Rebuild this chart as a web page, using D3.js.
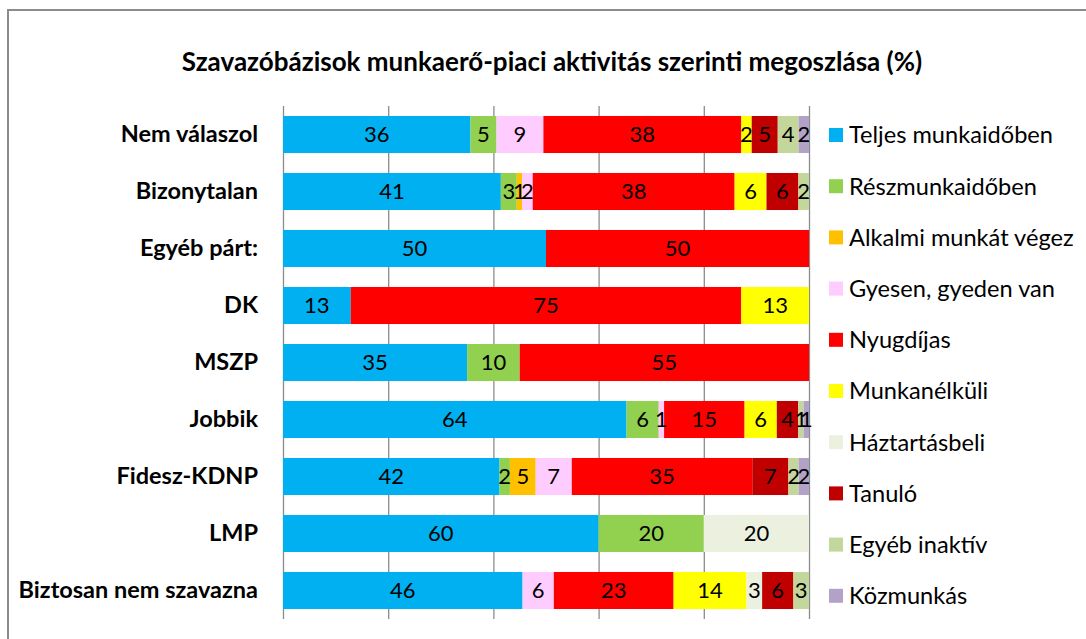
<!DOCTYPE html>
<html><head><meta charset="utf-8">
<script src="https://cdn.jsdelivr.net/npm/d3@7"></script>
<style>
html,body{margin:0;padding:0;background:#fff;}
svg{display:block;}
text{font-family:Lato, "Open Sans", sans-serif;}
</style></head>
<body><svg id="chart" width="1086" height="639"></svg>
<script>
const title = "Szavazóbázisok munkaerő-piaci aktivitás szerinti megoszlása (%)";
const categories = ["Nem válaszol","Bizonytalan","Egyéb párt:","DK","MSZP","Jobbik","Fidesz-KDNP","LMP","Biztosan nem szavazna"];
const seriesNames = ["Teljes munkaidőben","Részmunkaidőben","Alkalmi munkát végez","Gyesen, gyeden van","Nyugdíjas","Munkanélküli","Háztartásbeli","Tanuló","Egyéb inaktív","Közmunkás"];
const seriesColors = ["#00b0f0","#92d050","#ffc000","#ffccff","#ff0000","#ffff00","#ebf1de","#c00000","#c3d69b","#b3a2c7"];
const teljes     = [36,41,50,13,35,64,42,60,46];
const resz       = [ 5, 3, 0, 0,10, 6, 2,20, 0];
const alkalmi    = [ 0, 1, 0, 0, 0, 0, 5, 0, 0];
const gyes       = [ 9, 2, 0, 0, 0, 1, 7, 0, 6];
const nyugdijas  = [38,38,50,75,55,15,35, 0,23];
const munkanelk  = [ 2, 6, 0,13, 0, 6, 0, 0,14];
const haztartas  = [ 0, 0, 0, 0, 0, 0, 0,20, 3];
const tanulo     = [ 5, 6, 0, 0, 0, 4, 7, 0, 6];
const egyeb      = [ 4, 2, 0, 0, 0, 1, 2, 0, 3];
const kozmunkas  = [ 2, 0, 0, 0, 0, 1, 2, 0, 0];
const seriesValues = [teljes,resz,alkalmi,gyes,nyugdijas,munkanelk,haztartas,tanulo,egyeb,kozmunkas];
const gridTicks = [0,0.2,0.4,0.6,0.8,1];

const table = categories.map((c,i)=>{
  const row = {cat:c};
  seriesNames.forEach((s,j)=>row[s]=seriesValues[j][i]);
  return row;
});

const svg = d3.select("#chart");
// outer frame
svg.append("rect").attr("x",8).attr("y",10).attr("width",1200).attr("height",800)
  .attr("fill","none").attr("stroke","#8c8c8c").attr("stroke-width",2);

svg.append("text").attr("x",552).attr("y",71).attr("text-anchor","middle")
  .attr("font-size",26).attr("font-weight","bold").attr("fill","#000").text(title);

const x = d3.scaleLinear().domain([0,1]).range([283,809]);
const y = d3.scaleBand().domain(categories).range([106,619]).paddingInner(0.35).paddingOuter(0.175);

const stack = d3.stack().keys(seriesNames).offset(d3.stackOffsetExpand);
const stacked = stack(table);

// gridlines
svg.append("g").attr("transform","translate(0,619)")
  .call(d3.axisBottom(x).tickValues(gridTicks).tickSize(-513).tickFormat(""))
  .call(g=>g.select(".domain").remove())
  .call(g=>g.selectAll(".tick line").attr("stroke","#8c8c8c").attr("stroke-width",1.3));

// category axis
svg.append("g").attr("transform","translate(283,0)")
  .call(d3.axisLeft(y).tickSize(0).tickPadding(25))
  .call(g=>g.select(".domain").remove())
  .call(g=>g.selectAll(".tick text").attr("font-size",23.5).attr("font-weight","bold").attr("fill","#000").attr("font-family","Lato, sans-serif"));

const layers = svg.append("g").selectAll("g").data(stacked).join("g")
  .attr("fill",(d,i)=>seriesColors[i]);
layers.selectAll("rect").data(d=>d.map(v=>({v, cat:v.data.cat}))).join("rect")
  .attr("x",d=>x(d.v[0])).attr("width",d=>x(d.v[1])-x(d.v[0]))
  .attr("y",d=>y(d.cat)).attr("height",y.bandwidth());

const labels = svg.append("g");
stacked.forEach((layer,i)=>{
  layer.forEach(v=>{
    const val = v.data[layer.key];
    if(!val) return;
    labels.append("text")
      .attr("x",x((v[0]+v[1])/2)).attr("y",y(v.data.cat)+y.bandwidth()/2)
      .attr("dy","0.36em").attr("text-anchor","middle")
      .attr("font-size",22).attr("fill","#000").text(val);
  });
});

// legend
const lg = svg.append("g");
seriesNames.forEach((s,i)=>{
  const ly = 135 + i*51.2;
  lg.append("rect").attr("x",829).attr("y",ly-7).attr("width",14).attr("height",14).attr("fill",seriesColors[i]);
  lg.append("text").attr("x",849).attr("y",ly).attr("dy","0.36em").attr("font-size",23.6).attr("fill","#000").text(s);
});
</script></body></html>
